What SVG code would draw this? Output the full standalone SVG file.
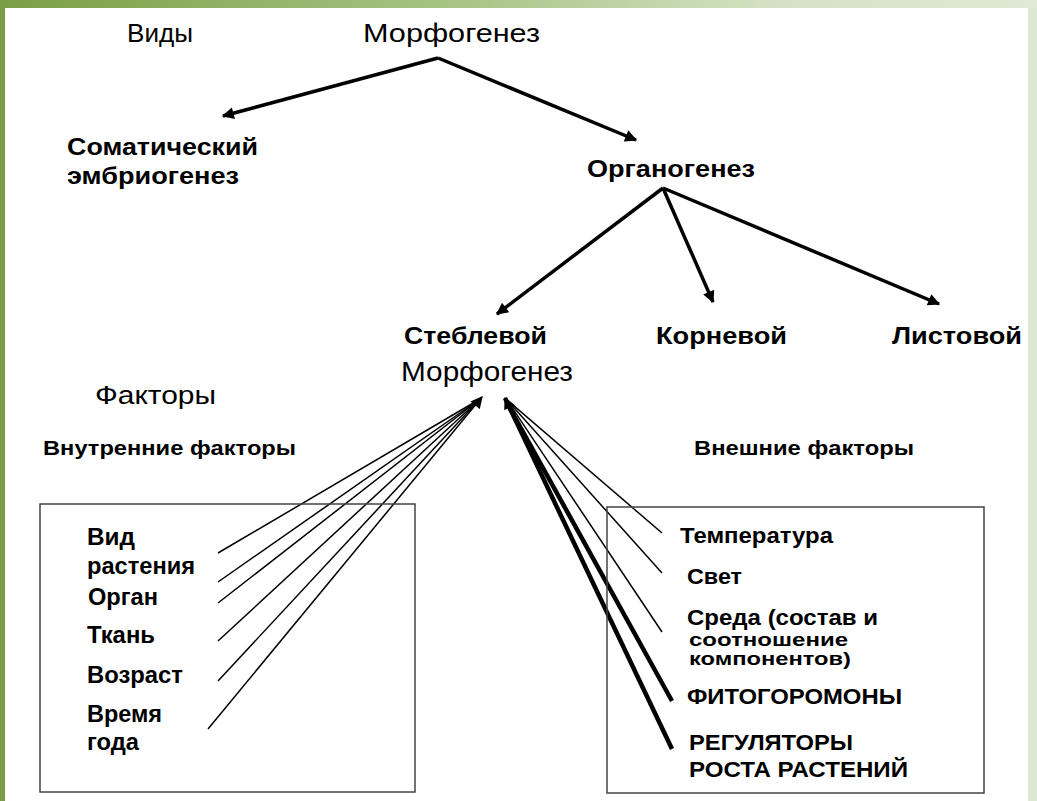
<svg xmlns="http://www.w3.org/2000/svg" width="1037" height="801" viewBox="0 0 1037 801">
<defs>
<linearGradient id="topband" x1="0" y1="0" x2="1" y2="0">
<stop offset="0" stop-color="#7a9e45"/>
<stop offset="0.45" stop-color="#a9c486"/>
<stop offset="0.75" stop-color="#d3e2c4"/>
<stop offset="1" stop-color="#dfe9d6"/>
</linearGradient>
<marker id="ah" viewBox="0 0 10 10" refX="9" refY="5" markerWidth="14" markerHeight="12" markerUnits="userSpaceOnUse" orient="auto">
<path d="M0,0 L10,5 L0,10 Z" fill="#000"/>
</marker>
<style>
.n{font-family:"Liberation Sans",Arial,sans-serif;fill:#000}
.b{font-family:"Liberation Sans",Arial,sans-serif;font-weight:bold;fill:#000}
.box{fill:none;stroke:#444;stroke-width:1.5}
.arr{stroke:#000;stroke-width:3.5;fill:none}
.thin{stroke:#000;stroke-width:1.5;fill:none}
.thick{stroke:#000;stroke-width:4.5;fill:none}
</style>
</defs>
<rect x="0" y="0" width="1037" height="801" fill="#fff"/>
<rect x="0" y="0" width="1037" height="8" fill="url(#topband)"/>
<rect x="0" y="0" width="5" height="801" fill="#7a9e45"/>
<rect x="1028" y="8" width="9" height="793" fill="#dce7d4"/>

<g id="connectors">
<line class="arr" x1="438" y1="58" x2="223" y2="116" marker-end="url(#ah)"/>
<line class="arr" x1="438" y1="58" x2="636" y2="140" marker-end="url(#ah)"/>
<line class="arr" x1="663" y1="188" x2="497" y2="314" marker-end="url(#ah)"/>
<line class="arr" x1="663" y1="188" x2="713" y2="302" marker-end="url(#ah)"/>
<line class="arr" x1="663" y1="188" x2="939" y2="304" marker-end="url(#ah)"/>
<line class="thin" x1="218" y1="553" x2="480" y2="399"/>
<line class="thin" x1="218" y1="582" x2="480" y2="399"/>
<line class="thin" x1="218" y1="603" x2="480" y2="399"/>
<line class="thin" x1="218" y1="641" x2="480" y2="399"/>
<line class="thin" x1="218" y1="681" x2="480" y2="399"/>
<line class="thin" x1="208" y1="729" x2="482" y2="397" marker-end="url(#ah)"/>
<line class="thin" x1="662" y1="533" x2="507" y2="400"/>
<line class="thin" x1="662" y1="573" x2="507" y2="400"/>
<line class="thin" x1="662" y1="632" x2="507" y2="400"/>
<line class="thick" x1="672" y1="701" x2="507" y2="403"/>
<line class="thick" x1="672" y1="749" x2="505" y2="398" marker-end="url(#ah)"/>
</g>

<g id="vidy"><text class="n" x="127" y="42" font-size="26" textLength="66" lengthAdjust="spacingAndGlyphs">Виды</text></g>
<g id="morfogenez-top"><text class="n" x="363" y="42" font-size="26" textLength="177" lengthAdjust="spacingAndGlyphs">Морфогенез</text></g>
<g id="somatic"><text class="b" x="67" y="155" font-size="24" textLength="191" lengthAdjust="spacingAndGlyphs">Соматический</text><text class="b" x="67" y="184" font-size="24" textLength="172" lengthAdjust="spacingAndGlyphs">эмбриогенез</text></g>
<g id="organogenez"><text class="b" x="587" y="177" font-size="23" textLength="168" lengthAdjust="spacingAndGlyphs">Органогенез</text></g>
<g id="stebl"><text class="b" x="404" y="344" font-size="23" textLength="143" lengthAdjust="spacingAndGlyphs">Стеблевой</text><text class="n" x="401" y="381" font-size="27" textLength="172" lengthAdjust="spacingAndGlyphs">Морфогенез</text></g>
<g id="korn"><text class="b" x="656" y="344" font-size="23" textLength="131" lengthAdjust="spacingAndGlyphs">Корневой</text></g>
<g id="list"><text class="b" x="892" y="344" font-size="23" textLength="130" lengthAdjust="spacingAndGlyphs">Листовой</text></g>
<g id="faktory"><text class="n" x="95" y="404" font-size="26" textLength="121" lengthAdjust="spacingAndGlyphs">Факторы</text></g>
<g id="vnutr"><text class="b" x="43" y="455" font-size="21" textLength="253" lengthAdjust="spacingAndGlyphs">Внутренние факторы</text></g>
<g id="vneshn"><text class="b" x="694" y="455" font-size="21" textLength="220" lengthAdjust="spacingAndGlyphs">Внешние факторы</text></g>

<g id="inner-box">
<rect class="box" x="40" y="504" width="375" height="288"/>
<text class="b" x="87" y="545" font-size="23" textLength="48" lengthAdjust="spacingAndGlyphs">Вид</text>
<text class="b" x="87" y="574" font-size="23" textLength="108" lengthAdjust="spacingAndGlyphs">растения</text>
<text class="b" x="88" y="605" font-size="23" textLength="70" lengthAdjust="spacingAndGlyphs">Орган</text>
<text class="b" x="87" y="643" font-size="23" textLength="68" lengthAdjust="spacingAndGlyphs">Ткань</text>
<text class="b" x="87" y="683" font-size="23" textLength="96" lengthAdjust="spacingAndGlyphs">Возраст</text>
<text class="b" x="87" y="722" font-size="23" textLength="75" lengthAdjust="spacingAndGlyphs">Время</text>
<text class="b" x="87" y="750" font-size="23" textLength="52" lengthAdjust="spacingAndGlyphs">года</text>
</g>

<g id="outer-box">
<rect class="box" x="607" y="507" width="377" height="286"/>
<text class="b" x="680" y="543" font-size="22" textLength="153" lengthAdjust="spacingAndGlyphs">Температура</text>
<text class="b" x="687" y="584" font-size="22" textLength="55" lengthAdjust="spacingAndGlyphs">Свет</text>
<text class="b" x="687" y="625" font-size="22" textLength="191" lengthAdjust="spacingAndGlyphs">Среда (состав и</text>
<text class="b" x="689" y="646" font-size="22" textLength="159" lengthAdjust="spacingAndGlyphs" transform="translate(689,646) scale(1,0.82) translate(-689,-646)">соотношение</text>
<text class="b" x="689" y="665" font-size="22" textLength="162" lengthAdjust="spacingAndGlyphs" transform="translate(689,665) scale(1,0.85) translate(-689,-665)">компонентов)</text>
<text class="b" x="687" y="704" font-size="22" textLength="215" lengthAdjust="spacingAndGlyphs">ФИТОГОРОМОНЫ</text>
<text class="b" x="689" y="750" font-size="22" textLength="164" lengthAdjust="spacingAndGlyphs">РЕГУЛЯТОРЫ</text>
<text class="b" x="689" y="777" font-size="22" textLength="219" lengthAdjust="spacingAndGlyphs">РОСТА РАСТЕНИЙ</text>
</g>
</svg>
